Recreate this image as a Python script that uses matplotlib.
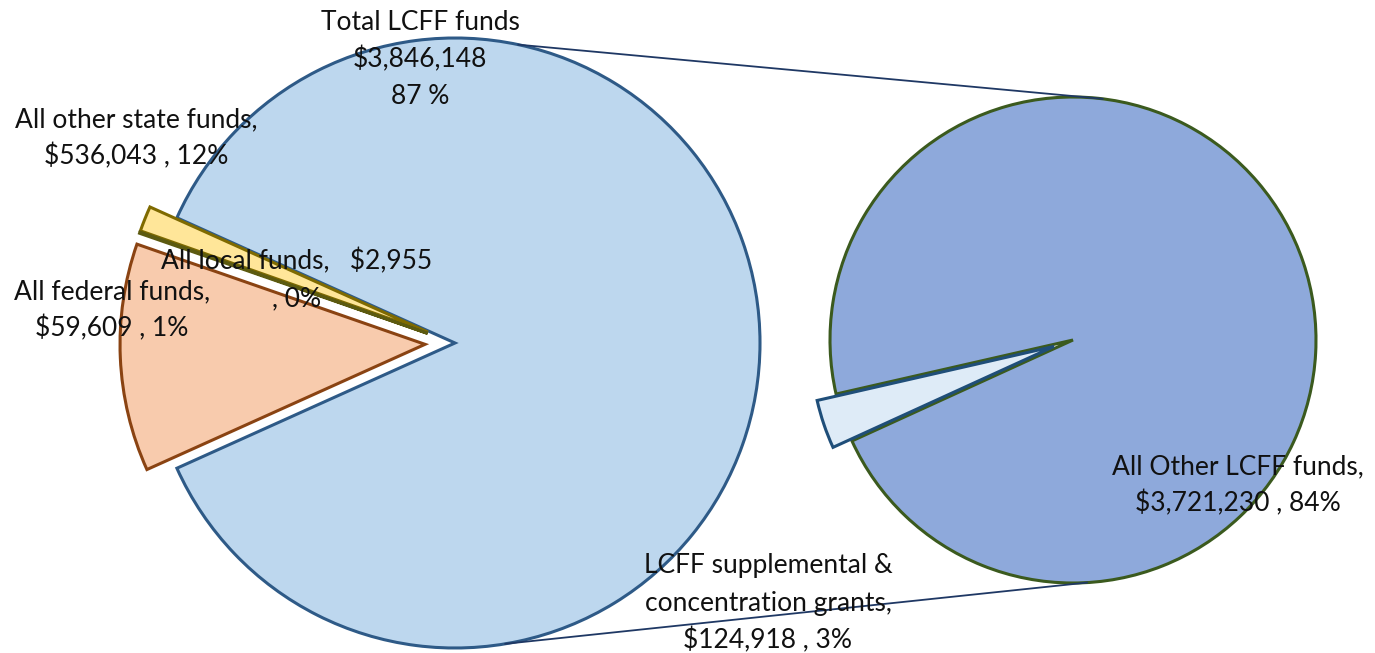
import numpy as np
import matplotlib.pyplot as plt

# Funding data
main_labels = ['Total LCFF funds', 'All federal funds', 'All local funds', 'All other state funds']
main_values = [3846148, 59609, 2955, 536043]
main_pcts = ['87 %', '1%', '0%', '12%']

sub_labels = ['LCFF supplemental &\nconcentration grants', 'All Other LCFF funds']
sub_values = [124918, 3721230]
sub_pcts = ['3%', '84%']

plt.rcParams['font.family'] = ['Lato', 'DejaVu Sans']

W, H = 1375, 653
fig = plt.figure(figsize=(W / 100, H / 100), dpi=100)
ax = fig.add_axes([0, 0, 1, 1])

# pie geometry (pixel units, y measured from bottom)
c1, r1 = (455, H - 343), 305
c2, r2 = (1073, H - 340), 243

total = sum(main_values)
start1 = -180 * main_values[0] / total
fills1 = ['#BDD7EE', '#FFE699', '#D6C27A', '#F8CBAD']
edges1 = ['#2E5A87', '#7F6A00', '#5C5A10', '#8A4312']
explode1 = [0, 29, 29, 30]  # offsets in pixel units

w1, _ = ax.pie(main_values, center=c1, radius=r1, startangle=start1,
               colors=fills1, explode=explode1, counterclock=True,
               wedgeprops=dict(linewidth=2.2), frame=True)
for w, ec in zip(w1, edges1):
    w.set_edgecolor(ec)

lcff = sum(sub_values)
start2 = 198.7 - 180 * sub_values[0] / lcff
fills2 = ['#DEEBF7', '#8EA9DB']
edges2 = ['#1F4E79', '#3B5A1E']
w2, _ = ax.pie(sub_values, center=c2, radius=r2, startangle=start2,
               colors=fills2, explode=[20, 0], counterclock=True,
               wedgeprops=dict(linewidth=2.2), frame=True)
for w, ec in zip(w2, edges2):
    w.set_edgecolor(ec)
w2[0].set_zorder(3)

ax.set_xlim(0, W)
ax.set_ylim(0, H)
ax.set_aspect('equal')
ax.axis('off')

# connector lines between the two pies
for a1, a2 in [(78, 83), (-80.5, -86.7)]:
    p1 = (c1[0] + r1 * np.cos(np.radians(a1)), c1[1] + r1 * np.sin(np.radians(a1)))
    p2 = (c2[0] + r2 * np.cos(np.radians(a2)), c2[1] + r2 * np.sin(np.radians(a2)))
    ax.plot([p1[0], p2[0]], [p1[1], p2[1]], color='#1F3864', lw=1.3, zorder=1)

fs = 19
step = 37  # line step in pixels

def label(x, y, s):
    # one text per line, centred, so each box only covers its own line
    lines = s.split('\n')
    y0 = y - step * (len(lines) - 1) / 2
    for i, line in enumerate(lines):
        ax.text(x, H - (y0 + i * step), line, ha='center', va='center',
                fontsize=fs, color='#111111', zorder=5)

label(420, 59, f"{main_labels[0]}\n${main_values[0]:,}\n{main_pcts[0]}")
label(136, 138, f"{main_labels[3]},\n${main_values[3]:,} , {main_pcts[3]}")
label(297, 280, f"{main_labels[2]},   ${main_values[2]:,}\n, {main_pcts[2]}")
label(112, 310, f"{main_labels[1]},\n${main_values[1]:,} , {main_pcts[1]}")
label(1238, 485, f"{sub_labels[1]},\n${sub_values[1]:,} , {sub_pcts[1]}")
label(768, 603, f"{sub_labels[0]},\n${sub_values[0]:,} , {sub_pcts[0]}")

fig.savefig('out.png', dpi=100)
